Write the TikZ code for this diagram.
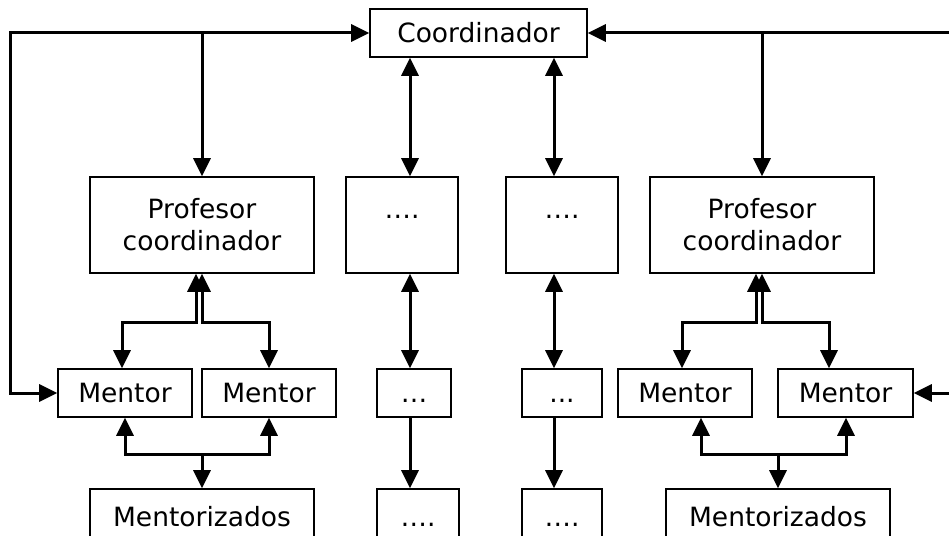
\documentclass[tikz,border=0pt]{standalone}
\usepackage{fontspec}
\setmainfont{DejaVu Sans}
\usetikzlibrary{arrows.meta}
\begin{document}
\begin{tikzpicture}[x=1pt,y=-1pt,
  >={Triangle[length=18pt,width=17pt]},
  box/.style={draw, line width=1.6pt, rectangle, inner sep=0pt, align=center,
    font=\fontsize{26.5}{32}\selectfont},
  conn/.style={line width=3pt}]
\useasboundingbox (0,0) rectangle (949,535);
\clip (0,0) rectangle (949,535);
% boxes
\node[box, minimum width=217pt, minimum height=48pt] (coord) at (478.5,33) {Coordinador};
\node[box, minimum width=224pt, minimum height=96pt] (prof1) at (202,225) {Profesor\\coordinador};
\node[box, minimum width=112pt, minimum height=96pt] (dots1) at (402,225) {\vphantom{Profesor}….\\\vphantom{coordinador}};
\node[box, minimum width=112pt, minimum height=96pt] (dots2) at (562,225) {\vphantom{Profesor}….\\\vphantom{coordinador}};
\node[box, minimum width=224pt, minimum height=96pt] (prof2) at (762,225) {Profesor\\coordinador};
\node[box, minimum width=134pt, minimum height=48pt] (m1) at (125,393) {Mentor};
\node[box, minimum width=134pt, minimum height=48pt] (m2) at (269,393) {Mentor};
\node[box, minimum width=74pt, minimum height=48pt] (s1) at (414,393) {\vphantom{Mentor}…};
\node[box, minimum width=80pt, minimum height=48pt] (s2) at (562,393) {\vphantom{Mentor}...};
\node[box, minimum width=134pt, minimum height=48pt] (m3) at (685,393) {Mentor};
\node[box, minimum width=135pt, minimum height=48pt] (m4) at (845.5,393) {Mentor};
\node[box, minimum width=224pt, minimum height=56pt] (z1) at (202,517) {Mentorizados};
\node[box, minimum width=82pt, minimum height=56pt] (b1) at (418,517) {\vphantom{Mentorizados}….};
\node[box, minimum width=80pt, minimum height=56pt] (b2) at (562,517) {\vphantom{Mentorizados}….};
\node[box, minimum width=224pt, minimum height=56pt] (z2) at (778,517) {Mentorizados};
% helper coordinates
\coordinate (TL) at (10,33);
\coordinate (TR) at (956,33);
\coordinate (c1) at (410,0);
\coordinate (c2) at (554,0);
\coordinate (k1) at (122,0);
\coordinate (k3) at (682,0);
\coordinate (k4) at (829,0);
\coordinate (q3) at (701,0);
\coordinate (q4) at (846,0);
\coordinate (p1a) at (196,322);
\coordinate (p1b) at (202,322);
\coordinate (p2a) at (756,322);
\coordinate (p2b) at (762,322);
\coordinate (j1) at (202,454);
\coordinate (j2) at (778,454);
% connectors
\draw[conn,<->] (m1.west) -| (TL) -- (coord.west);
\draw[conn,->] (prof1.north |- coord.west) -- (prof1.north);
\draw[conn,<->] (m4.east) -| (TR) -- (coord.east);
\draw[conn,->] (prof2.north |- coord.east) -- (prof2.north);
\draw[conn,<->] (coord.south -| c1) -- (dots1.north -| c1);
\draw[conn,<->] (coord.south -| c2) -- (dots2.north -| c2);
\draw[conn,<->] (dots1.south -| c1) -- (s1.north -| c1);
\draw[conn,<->] (dots2.south -| c2) -- (s2.north -| c2);
\draw[conn,->] (s1.south -| c1) -- (b1.north -| c1);
\draw[conn,->] (s2.south -| c2) -- (b2.north -| c2);
\draw[conn,<->] (m1.north -| k1) |- (p1a) -- (prof1.south -| p1a);
\draw[conn,<->] (m2.north) |- (p1b) -- (prof1.south -| p1b);
\draw[conn,<->] (m3.north -| k3) |- (p2a) -- (prof2.south -| p2a);
\draw[conn,<->] (m4.north -| k4) |- (p2b) -- (prof2.south -| p2b);
\draw[conn,<->] (m1.south) |- (j1) -| (m2.south);
\draw[conn,->] (j1) -- (z1.north);
\draw[conn,<->] (m3.south -| q3) |- (j2) -| (m4.south -| q4);
\draw[conn,->] (j2) -- (z2.north);
\end{tikzpicture}
\end{document}
